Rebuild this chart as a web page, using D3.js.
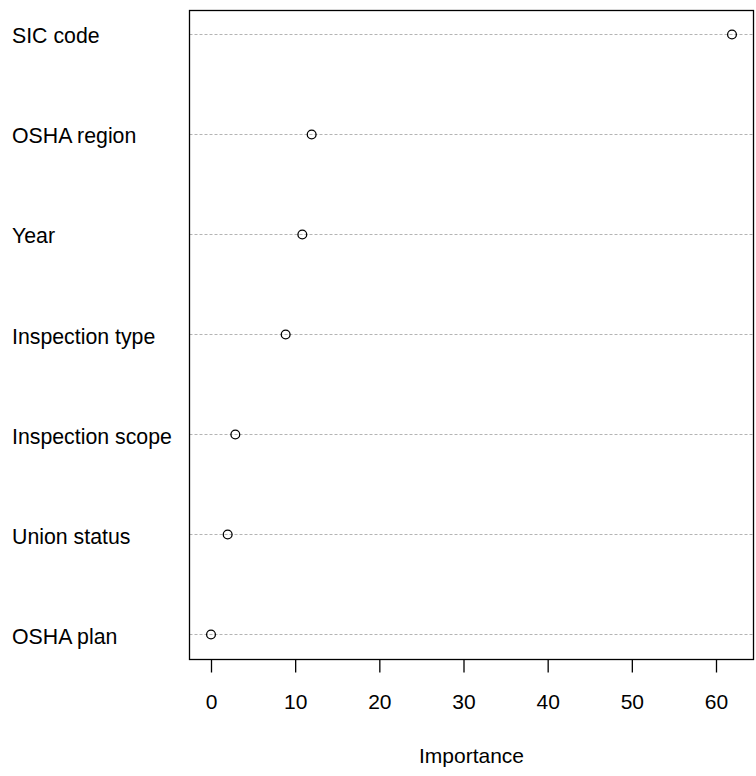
<!DOCTYPE html>
<html>
<head>
<meta charset="utf-8">
<script src="https://cdn.jsdelivr.net/npm/d3@7"></script>
<style>
  html, body { margin: 0; padding: 0; background: #fff; }
  svg { display: block; font-family: "Liberation Sans", Arial, sans-serif; }
</style>
</head>
<body>
<script>
// Variable importance, top to bottom
const variables = ["SIC code", "OSHA region", "Year", "Inspection type", "Inspection scope", "Union status", "OSHA plan"];
const importance = [61.9, 11.96, 10.85, 8.87, 2.89, 1.98, 0.0];
const xTicks = [0, 10, 20, 30, 40, 50, 60];
const xTitle = "Importance";

const W = 756, H = 776;
const box = { left: 189.5, right: 753.5, top: 10.5, bottom: 659.5 };

const svg = d3.select("body").append("svg").attr("width", W).attr("height", H);

// x: 0 at ~211, 60 at ~716
const x = d3.scaleLinear().domain([0, 60]).range([211, 716]);
const y = d3.scalePoint().domain(variables).range([33.5, 634]);

// dotted guide lines for each variable
svg.append("g").selectAll("line").data(variables).join("line")
  .attr("x1", box.left).attr("x2", box.right)
  .attr("y1", d => Math.round(y(d)) + 0.5).attr("y2", d => Math.round(y(d)) + 0.5)
  .attr("stroke", "#b4b4b4").attr("stroke-width", 1)
  .attr("stroke-dasharray", "3,2");

// plot frame
svg.append("rect")
  .attr("x", box.left).attr("y", box.top)
  .attr("width", box.right - box.left).attr("height", box.bottom - box.top)
  .attr("fill", "none").attr("stroke", "#000").attr("stroke-width", 1.3);

// points
svg.append("g").selectAll("circle").data(variables).join("circle")
  .attr("cx", (d, i) => x(importance[i]))
  .attr("cy", d => Math.round(y(d)) + 0.5)
  .attr("r", 4.4)
  .attr("fill", "none").attr("stroke", "#000").attr("stroke-width", 1.3);

// variable labels
svg.append("g").selectAll("text").data(variables).join("text")
  .attr("x", 12).attr("y", d => y(d) + 9.8)
  .attr("font-size", 21.3).attr("fill", "#000")
  .text(d => d);

// bottom axis
const axis = d3.axisBottom(x).tickValues(xTicks).tickSize(13).tickPadding(0).tickFormat(d3.format("d"));
const gx = svg.append("g").attr("transform", `translate(0,${box.bottom})`).call(axis);
gx.select(".domain").remove();
gx.selectAll(".tick line").attr("stroke", "#000").attr("stroke-width", 1.3);
gx.selectAll(".tick text")
  .attr("font-size", 21).attr("fill", "#000")
  .attr("font-family", "Liberation Sans, Arial, sans-serif")
  .attr("dy", null).attr("y", 49.5);

// axis title
svg.append("text")
  .attr("x", (box.left + box.right) / 2).attr("y", 762.5)
  .attr("text-anchor", "middle").attr("font-size", 21).attr("fill", "#000")
  .text(xTitle);
</script>
</body>
</html>
